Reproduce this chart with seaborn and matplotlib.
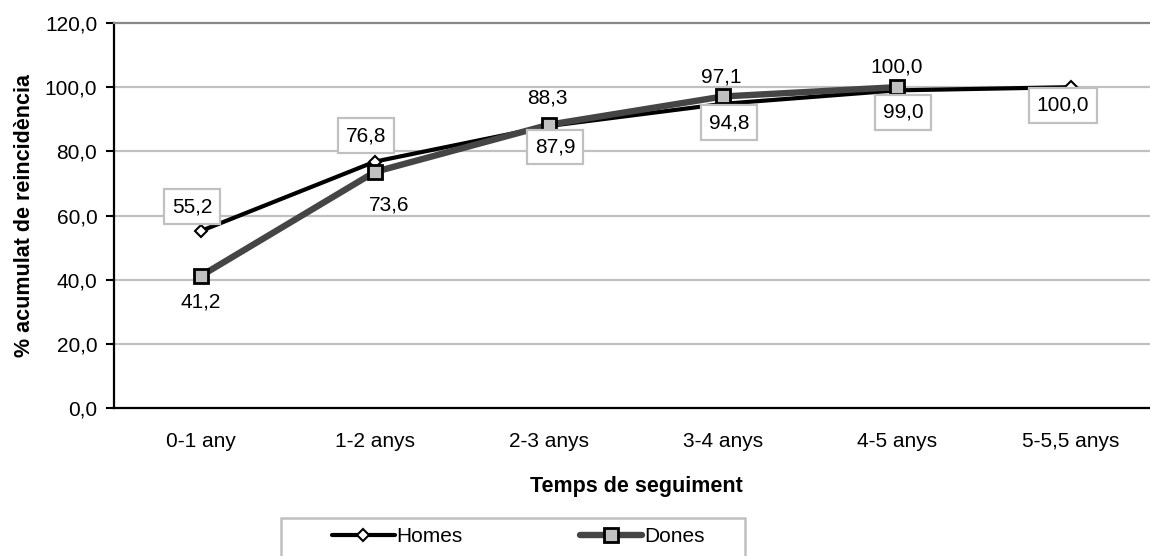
import numpy as np
import pandas as pd
import matplotlib
matplotlib.use("Agg")
import matplotlib.pyplot as plt
import seaborn as sns
from matplotlib.patches import Rectangle
from matplotlib.lines import Line2D

categories = ["0-1 any", "1-2 anys", "2-3 anys", "3-4 anys", "4-5 anys", "5-5,5 anys"]
homes = [55.2, 76.8, 87.9, 94.8, 99.0, 100.0]
dones = [41.2, 73.6, 88.3, 97.1, 100.0, np.nan]
y_ticks = [0, 20, 40, 60, 80, 100, 120]

df = pd.DataFrame({"pos": np.arange(len(categories)), "cat": categories,
                   "Homes": homes, "Dones": dones})

sns.set_theme(style="white")
plt.rcParams["font.family"] = ["Liberation Sans", "DejaVu Sans"]
plt.rcParams["text.color"] = "black"
plt.rcParams["axes.labelcolor"] = "black"
plt.rcParams["xtick.color"] = "black"
plt.rcParams["ytick.color"] = "black"
FS = 15
FSB = 15.5

fig = plt.figure(figsize=(11.5, 5.56), dpi=100)
ax = fig.add_axes([114/1150, 1-408/556, 1044/1150, 385/556])

grid_c = "#c0c0c0"
for v in y_ticks[1:-1]:
    ax.axhline(v, color=grid_c, lw=1.6, zorder=0)

sns.lineplot(data=df, x="pos", y="Homes", ax=ax, color="black", lw=3.0,
             marker="D", markersize=6, markerfacecolor="white",
             markeredgecolor="black", markeredgewidth=1.5, estimator=None, zorder=3)
sns.lineplot(data=df.dropna(), x="pos", y="Dones", ax=ax, color="#454545", lw=4.6,
             marker="s", markersize=10, markerfacecolor="#c0c0c0",
             markeredgecolor="black", markeredgewidth=2, estimator=None, zorder=4)

# data labels
homes_off = [(-9, 24), (-9, 26), (6, -21), (6, -19), (6, -22), (-8, -18)]
for i, v in enumerate(homes):
    dx, dy = homes_off[i]
    ax.annotate(f"{v:.1f}".replace(".", ","), (i, v), xytext=(dx, dy),
                textcoords="offset pixels", ha="center", va="center", fontsize=FS,
                color="black", zorder=6,
                bbox=dict(boxstyle="square,pad=0.38", fc="white", ec=grid_c, lw=1.6))
dones_off = [(0, -26), (14, -33), (-2, 27), (-2, 19), (0, 20)]
for i, v in enumerate(dones):
    if np.isnan(v):
        continue
    dx, dy = dones_off[i]
    ax.annotate(f"{v:.1f}".replace(".", ","), (i, v), xytext=(dx, dy),
                textcoords="offset pixels", ha="center", va="center", fontsize=FS,
                color="black", zorder=7)

ax.set_xlim(-0.5, len(categories) - 0.5)
ax.set_ylim(0, 120)
ax.set_yticks(y_ticks)
ax.set_yticklabels([f"{v:.1f}".replace(".", ",") for v in y_ticks], fontsize=FS)
ax.set_xticks(np.arange(len(categories)))
ax.set_xticklabels(categories, fontsize=FS)
ax.set_xticks(np.arange(len(categories) + 1) - 0.5, minor=True)
ax.tick_params(axis="x", which="major", length=0, pad=17, colors="black")
ax.tick_params(axis="x", which="minor", length=6, width=1.5, direction="out", color="black")
ax.tick_params(axis="y", which="major", length=6, width=1.5, direction="out",
               color="black", pad=6, left=True)
ax.set_xlabel("Temps de seguiment", fontsize=FSB, fontweight="bold", labelpad=18)
ax.set_ylabel("% acumulat de reincidència", fontsize=FSB, fontweight="bold", labelpad=7)

for s in ["left", "bottom"]:
    ax.spines[s].set_color("black")
    ax.spines[s].set_linewidth(1.6)
ax.spines["top"].set_color("#888888")
ax.spines["top"].set_linewidth(1.6)
ax.spines["right"].set_visible(False)

# legend
fig.patches.append(Rectangle((281/1150, -0.05), (745-281)/1150, 1-518/556 + 0.05,
                             transform=fig.transFigure, fill=False,
                             ec=grid_c, lw=1.8, zorder=0))
h1 = Line2D([], [], color="black", lw=3.0, marker="D", markersize=6,
            markerfacecolor="white", markeredgecolor="black", markeredgewidth=1.5)
h2 = Line2D([], [], color="#454545", lw=4.6, marker="s", markersize=10,
            markerfacecolor="#c0c0c0", markeredgecolor="black", markeredgewidth=2)
fig.legend([h1, h2], ["Homes", "Dones"], loc="center left",
           bbox_to_anchor=(332/1150, 1-537/556), ncol=2, frameon=False,
           fontsize=FS, handlelength=3.0, handletextpad=0.1, columnspacing=5.6,
           borderpad=0, borderaxespad=0)

fig.savefig("out.png", dpi=100)
